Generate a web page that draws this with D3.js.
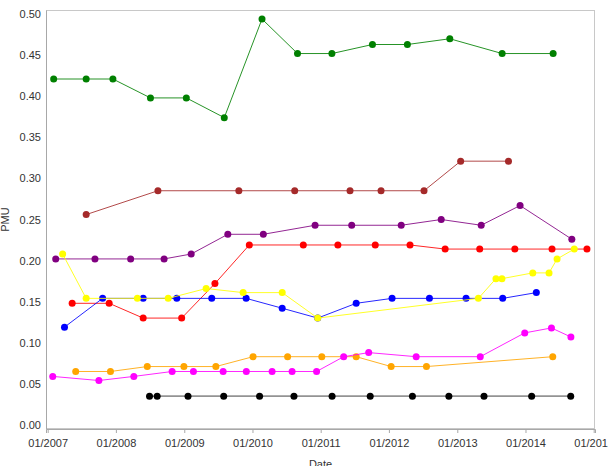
<!DOCTYPE html>
<html>
<head>
<meta charset="utf-8">
<script src="https://cdn.jsdelivr.net/npm/d3@7"></script>
<style>
  body { margin: 0; background: #fff; }
  svg { display: block; font-family: "Liberation Sans", Arial, sans-serif; }
</style>
</head>
<body>
<div id="chart"></div>
<script>
// series, drawn in this order (later ones on top)
const seriesNames = ["green", "brown", "purple", "red", "blue", "yellow", "orange", "magenta", "black"];
const markerColors = ["#008000", "#A52A2A", "#800080", "#FF0000", "#0000FF", "#FFFF00", "#FFA500", "#FF00FF", "#000000"];
const lineColors = ["#008000", "#A52A2A", "#800080", "#FF0000", "#0000FF", "#FFFF00", "#FFA500", "#FF00FF", "#808080"];

const greenDates = ["2007-02-02", "2007-07-26", "2007-12-16", "2008-07-04", "2009-01-12", "2009-08-03", "2010-02-21", "2010-08-30", "2011-03-02", "2011-10-05", "2012-04-09", "2012-11-22", "2013-08-29", "2014-05-29"];
const greenValues = [0.421, 0.421, 0.421, 0.398, 0.398, 0.374, 0.494, 0.452, 0.452, 0.463, 0.463, 0.470, 0.452, 0.452];

const brownDates = ["2007-07-26", "2008-08-13", "2009-10-20", "2010-08-15", "2011-06-07", "2011-11-20", "2012-07-07", "2013-01-19", "2013-10-02"];
const brownValues = [0.256, 0.285, 0.285, 0.285, 0.285, 0.285, 0.285, 0.321, 0.321];

const purpleDates = ["2007-02-13", "2007-09-11", "2008-03-20", "2008-09-15", "2009-02-07", "2009-08-22", "2010-02-28", "2010-12-02", "2011-06-16", "2012-03-07", "2012-10-07", "2013-05-09", "2013-12-03", "2014-09-06"];
const purpleValues = [0.202, 0.202, 0.202, 0.202, 0.208, 0.232, 0.232, 0.243, 0.243, 0.243, 0.250, 0.243, 0.267, 0.226];

const redDates = ["2007-05-12", "2007-11-26", "2008-05-26", "2008-12-18", "2009-06-14", "2009-12-15", "2010-09-30", "2011-04-03", "2011-10-20", "2012-04-23", "2012-10-28", "2013-05-01", "2013-11-05", "2014-05-23", "2014-11-26"];
const redValues = [0.148, 0.148, 0.130, 0.130, 0.172, 0.219, 0.219, 0.219, 0.219, 0.219, 0.214, 0.214, 0.214, 0.214, 0.214];

const blueDates = ["2007-04-01", "2007-10-22", "2008-05-26", "2008-11-22", "2009-05-28", "2009-11-28", "2010-06-09", "2010-12-16", "2011-07-10", "2012-01-18", "2012-08-05", "2013-02-17", "2013-09-01", "2014-02-28"];
const blueValues = [0.119, 0.154, 0.154, 0.154, 0.154, 0.154, 0.142, 0.130, 0.148, 0.154, 0.154, 0.154, 0.154, 0.161];

const yellowDates = ["2007-03-22", "2007-07-26", "2008-04-25", "2008-10-07", "2009-04-28", "2009-11-12", "2010-06-09", "2010-12-16", "2013-04-24", "2013-07-27", "2013-08-28", "2014-02-09", "2014-05-07", "2014-06-19", "2014-09-19"];
const yellowValues = [0.208, 0.154, 0.154, 0.154, 0.166, 0.161, 0.161, 0.130, 0.154, 0.178, 0.178, 0.185, 0.185, 0.202, 0.214];

const orangeDates = ["2007-05-31", "2007-12-03", "2008-06-17", "2008-12-30", "2009-06-19", "2010-01-04", "2010-07-08", "2011-01-07", "2011-07-10", "2012-01-13", "2012-07-20", "2014-05-27"];
const orangeValues = [0.065, 0.065, 0.071, 0.071, 0.071, 0.083, 0.083, 0.083, 0.083, 0.071, 0.071, 0.083];

const magentaDates = ["2007-01-28", "2007-10-02", "2008-04-06", "2008-10-28", "2009-02-19", "2009-07-28", "2009-11-29", "2010-04-16", "2010-08-01", "2010-12-10", "2011-05-04", "2011-09-15", "2012-05-26", "2013-05-04", "2013-12-28", "2014-05-20", "2014-09-01"];
const magentaValues = [0.059, 0.054, 0.059, 0.065, 0.065, 0.065, 0.065, 0.065, 0.065, 0.065, 0.083, 0.088, 0.083, 0.083, 0.112, 0.118, 0.107];

const blackDates = ["2008-06-29", "2008-08-09", "2009-01-21", "2009-07-31", "2010-02-08", "2010-08-11", "2011-03-03", "2011-09-23", "2012-05-06", "2012-11-17", "2013-05-24", "2014-02-03", "2014-08-31"];
const blackValues = [0.035, 0.035, 0.035, 0.035, 0.035, 0.035, 0.035, 0.035, 0.035, 0.035, 0.035, 0.035, 0.035];

const allDates = [greenDates, brownDates, purpleDates, redDates, blueDates, yellowDates, orangeDates, magentaDates, blackDates];
const allValues = [greenValues, brownValues, purpleValues, redValues, blueValues, yellowValues, orangeValues, magentaValues, blackValues];

const yTicks = [0, 0.05, 0.1, 0.15, 0.2, 0.25, 0.3, 0.35, 0.4, 0.45, 0.5];
const xTickYears = [2007, 2008, 2009, 2010, 2011, 2012, 2013, 2014, 2015];

const parseDate = d3.timeParse("%Y-%m-%d");

const series = seriesNames.map((name, i) => ({
  name: name,
  marker: markerColors[i],
  line: lineColors[i],
  points: allDates[i].map((d, j) => ({ date: parseDate(d), value: allValues[i][j] }))
}));

const width = 608;
const height = 466;
const margin = { top: 10, right: 13, bottom: 37, left: 46 };

const svg = d3.select("#chart")
  .append("svg")
  .attr("width", width)
  .attr("height", height);

const x = d3.scaleTime()
  .domain([new Date(2006, 11, 23), new Date(2015, 0, 8)])
  .range([margin.left, width - margin.right]);

const y = d3.scaleLinear()
  .domain([-0.005, 0.505])
  .range([height - margin.bottom, margin.top]);

// plot frame
svg.append("rect")
  .attr("x", margin.left + 0.5)
  .attr("y", margin.top + 0.5)
  .attr("width", width - margin.left - margin.right - 1)
  .attr("height", height - margin.top - margin.bottom - 1)
  .attr("fill", "none")
  .attr("stroke", "#c8c8c8");

// x axis
const xAxis = svg.append("g")
  .attr("transform", `translate(0,${height - margin.bottom})`)
  .call(d3.axisBottom(x)
    .tickValues(xTickYears.map((yr) => new Date(yr, 0, 1)))
    .tickFormat(d3.timeFormat("%m/%Y"))
    .tickSize(4)
    .tickPadding(6));
xAxis.select(".domain").attr("stroke", "#a8a8a8");
xAxis.selectAll(".tick line").attr("stroke", "#a8a8a8");
xAxis.selectAll(".tick text")
  .attr("fill", "#333")
  .style("font-size", "11px");

// y axis, labels only
const yAxis = svg.append("g")
  .attr("transform", `translate(${margin.left},0)`)
  .call(d3.axisLeft(y)
    .tickValues(yTicks)
    .tickFormat(d3.format(".2f"))
    .tickSize(0)
    .tickPadding(5));
yAxis.select(".domain").attr("stroke", "#a8a8a8");
yAxis.selectAll(".tick text")
  .attr("fill", "#333")
  .style("font-size", "11px");

// axis titles
svg.append("text")
  .attr("x", (margin.left + width - margin.right) / 2)
  .attr("y", 468)
  .attr("text-anchor", "middle")
  .attr("fill", "#333")
  .style("font-size", "11px")
  .text("Date");

svg.append("text")
  .attr("transform", `translate(9,${(margin.top + height - margin.bottom) / 2}) rotate(-90)`)
  .attr("text-anchor", "middle")
  .attr("fill", "#333")
  .style("font-size", "11px")
  .text("PMU");

const line = d3.line()
  .x((d) => x(d.date))
  .y((d) => y(d.value));

const groups = svg.selectAll(".series")
  .data(series)
  .join("g")
  .attr("class", "series");

groups.append("path")
  .attr("d", (d) => line(d.points))
  .attr("fill", "none")
  .attr("stroke", (d) => d.line)
  .attr("stroke-width", (d) => (d.name === "black" ? 1.6 : 1))
  .attr("opacity", 0.85);

groups.selectAll("circle")
  .data((d) => d.points.map((p) => ({ ...p, color: d.marker })))
  .join("circle")
  .attr("cx", (d) => x(d.date))
  .attr("cy", (d) => y(d.value))
  .attr("r", 3.5)
  .attr("fill", (d) => d.color);
</script>
</body>
</html>
